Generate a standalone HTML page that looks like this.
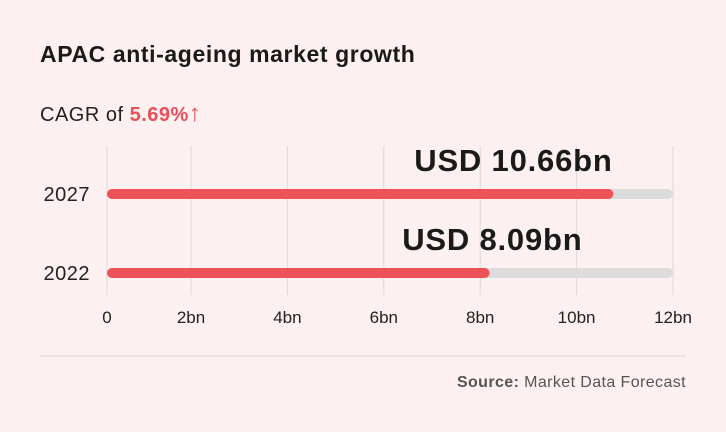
<!DOCTYPE html>
<html><head><meta charset="utf-8"><style>
body{margin:0;background:#fdf0f0;font-family:"Liberation Sans",sans-serif;}
svg{display:block}
</style></head><body>
<svg width="726" height="432">
<rect width="726" height="432" fill="#fdf0f0"/>
<text x="40" y="62" font-size="23" font-weight="bold" fill="#1a1a1a" letter-spacing="0.6">APAC anti-ageing market growth</text>
<text x="40" y="121" font-size="20" fill="#222" letter-spacing="0.5">CAGR of <tspan fill="#e8505b" font-weight="bold">5.69%</tspan><tspan fill="#e8505b" font-size="24" font-weight="bold">↑</tspan></text>
<g id="grid"></g><g id="bars"></g><g id="ticks"></g>
<line x1="40" y1="356" x2="686" y2="356" stroke="#e2d2d2" stroke-width="1"/>
<text x="686" y="387" font-size="16" fill="#555" text-anchor="end" letter-spacing="0.4"><tspan font-weight="bold">Source:</tspan> Market Data Forecast</text>
</svg>
<script>
const categories=["2027","2022"];
const values=[10.66,8.09];
const valueLabels=["USD 10.66bn","USD 8.09bn"];
const tickValues=[0,2,4,6,8,10,12];
const tickLabels=["0","2bn","4bn","6bn","8bn","10bn","12bn"];
const NS="http://www.w3.org/2000/svg";
function x(v){return v===0?107:94.6+v*48.2;}
function xb(v){return 94.6+v*48.2+5;}
const rowY=[194,273];
function mk(t,a,p){const e=document.createElementNS(NS,t);for(const k in a)e.setAttribute(k,a[k]);p.appendChild(e);return e;}
const grid=document.getElementById('grid'),bars=document.getElementById('bars'),ticks=document.getElementById('ticks');
tickValues.forEach((v,i)=>{
 const l=mk('line',{x1:x(v),x2:x(v),y1:146,y2:295,stroke:'#e6d6d6','stroke-width':1},grid);
 
 
 const t=mk('text',{x:x(v),y:323,'font-size':17,fill:'#222','text-anchor':'middle'},ticks);
 t.textContent=tickLabels[i];
 
 
});
categories.forEach((c,i)=>{
 const y=rowY[i];
 const cl=mk('text',{x:90,y:y+7,'font-size':20,fill:'#222','text-anchor':'end','letter-spacing':0.5},bars);
 cl.textContent=c;
 
 
 const tr=mk('rect',{x:107,y:y-5,width:x(12)-107,height:10,rx:5,fill:'#dcdcdc'},bars);
 
 
 const b=mk('rect',{x:107,y:y-5,width:xb(values[i])-107,height:10,rx:5,fill:'#ec5258'},bars);
 
 
 const vl=mk('text',{x:x(values[i])*0.17+410,y:y-23,'font-size':31,'font-weight':'bold',fill:'#1a1a1a','text-anchor':'middle','letter-spacing':0.8},bars);
 vl.textContent=valueLabels[i];
 
 
});
</script>
</body></html>
